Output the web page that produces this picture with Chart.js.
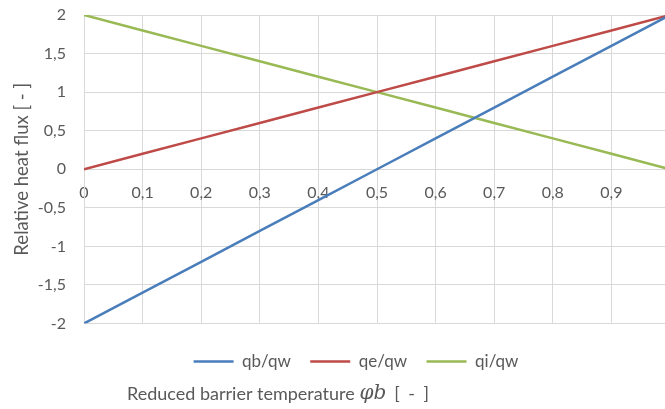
<!DOCTYPE html>
<html>
<head>
<meta charset="utf-8">
<script src="https://cdn.jsdelivr.net/npm/chart.js@4.4.1/dist/chart.umd.min.js"></script>
<style>
  html, body { margin: 0; padding: 0; background: #fff; overflow: hidden; }
  #wrap { width: 670px; height: 409px; }
</style>
</head>
<body>
<div id="wrap"><canvas id="chart"></canvas></div>
<script>
// Reduced barrier temperature (x) and relative heat fluxes
const phiB = [0, 0.1, 0.2, 0.3, 0.4, 0.5, 0.6, 0.7, 0.8, 0.9, 1];
const qbQw = [-2, -1.6, -1.2, -0.8, -0.4, 0, 0.4, 0.8, 1.2, 1.6, 2];
const qeQw = [0, 0.2, 0.4, 0.6, 0.8, 1, 1.2, 1.4, 1.6, 1.8, 2];
const qiQw = [2, 1.8, 1.6, 1.4, 1.2, 1, 0.8, 0.6, 0.4, 0.2, 0];
const seriesNames = ['qb/qw', 'qe/qw', 'qi/qw'];
const seriesColors = ['#4A7EBB', '#BE4B48', '#98B954'];

const FONT = 'Lato, "Liberation Sans", sans-serif';
const gridGrey = '#d9d9d9';

function comma(v) {
  return Number(v.toFixed(2)).toString().replace('.', ',');
}

function points(ys) {
  return phiB.map((x, i) => ({ x: x, y: ys[i] }));
}

// nudge the legend to where Excel put it
const legendShift = {
  id: 'legendShift',
  afterLayout(chart) {
    const lg = chart.legend;
    lg.left += 21; lg.right += 21;
    lg.top += 10; lg.bottom += 10;
  }
};

// x axis title with the italic symbol, drawn under the legend
const xTitle = {
  id: 'xTitle',
  afterDraw(chart) {
    const ctx = chart.ctx;
    ctx.save();
    ctx.fillStyle = '#595959';
    ctx.textBaseline = 'middle';
    let x = 127;
    const y = 394;
    ctx.font = '18px ' + FONT;
    const a = 'Reduced barrier temperature ';
    ctx.fillText(a, x, y);
    x += ctx.measureText(a).width;
    ctx.font = 'italic 20px "DejaVu Serif", serif';
    const b = 'φb';
    ctx.fillText(b, x, y);
    x += ctx.measureText(b).width + 8;
    ctx.font = '18px ' + FONT;
    ctx.letterSpacing = '2px';
    ctx.fillText('[ - ]', x, y);
    ctx.restore();
  }
};

new Chart(document.getElementById('chart'), {
  type: 'line',
  data: {
    datasets: [qbQw, qeQw, qiQw].map((ys, i) => ({
      label: seriesNames[i],
      data: points(ys),
      borderColor: seriesColors[i],
      backgroundColor: seriesColors[i],
      borderWidth: 2.5,
      pointRadius: 0,
      tension: 0
    }))
  },
  options: {
    responsive: true,
    maintainAspectRatio: false,
    animation: false,
    layout: { padding: { top: 15, right: 0, bottom: 39, left: 0 } },
    scales: {
      x: {
        type: 'linear',
        min: 0,
        max: 1,
        position: { y: 0 },
        afterFit(scale) { scale.paddingLeft = 0; scale.paddingRight = 0; },
        ticks: {
          stepSize: 0.1,
          padding: 14,
          color: '#595959',
          font: { family: FONT, size: 16 },
          callback: v => (v >= 1 ? '' : comma(v))
        },
        grid: { color: gridGrey, lineWidth: 1, drawTicks: false },
        border: { color: gridGrey }
      },
      y: {
        min: -2,
        max: 2,
        afterFit(scale) { scale.width = 84; scale.paddingTop = 0; scale.paddingBottom = 0; },
        ticks: {
          stepSize: 0.5,
          padding: 18,
          color: '#595959',
          font: { family: FONT, size: 16 },
          callback: v => comma(v)
        },
        grid: { color: gridGrey, lineWidth: 1, drawTicks: false },
        border: { color: gridGrey },
        title: {
          display: true,
          text: 'Relative heat flux [ - ]',
          color: '#595959',
          font: { family: FONT, size: 18.5 },
          padding: { top: 11, bottom: 0 }
        }
      }
    },
    plugins: {
      legend: {
        position: 'bottom',
        labels: {
          usePointStyle: true,
          pointStyle: 'line',
          pointStyleWidth: 40,
          color: '#595959',
          font: { family: FONT, size: 17 },
          padding: 19.5
        }
      },
      tooltip: { enabled: false }
    }
  },
  plugins: [legendShift, xTitle]
});
</script>
</body>
</html>
